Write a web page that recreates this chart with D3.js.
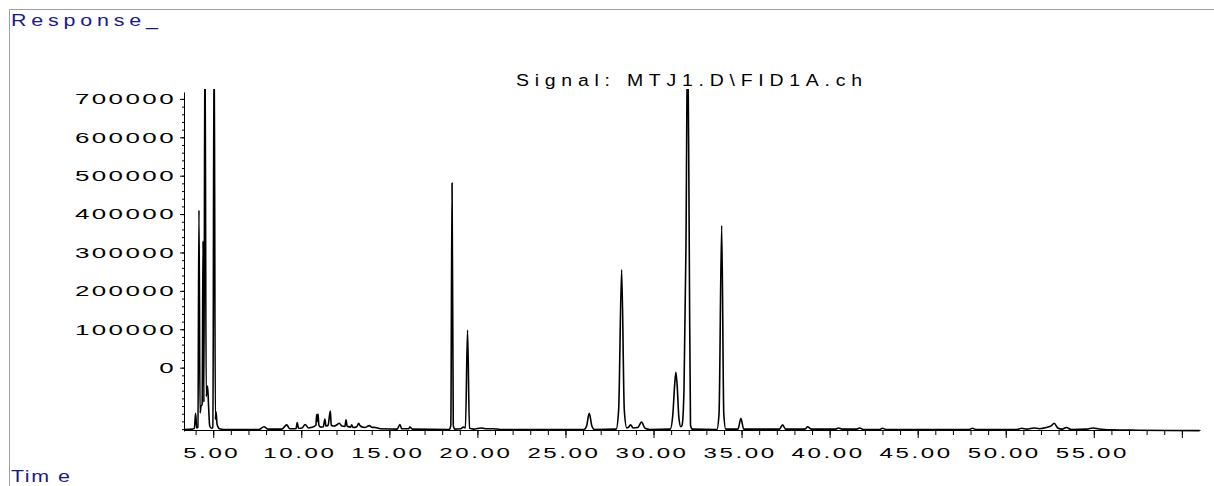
<!DOCTYPE html>
<html><head><meta charset="utf-8">
<script src="https://cdn.jsdelivr.net/npm/d3@7"></script>
<style>html,body{margin:0;padding:0;background:#fff;overflow:hidden}</style>
</head><body><svg id="c" width="1214" height="486"></svg>
<script>
const chartTitle = "Signal: MTJ1.D\\FID1A.ch";
const yAxisTitle = "Response_";
const xAxisTitle = "Tim e";
const yTickLabels = [0, 100000, 200000, 300000, 400000, 500000, 600000, 700000];
const xTickLabels = [5, 10, 15, 20, 25, 30, 35, 40, 45, 50, 55];
// trace vertices: retention time (min) and response
const traceTime = [3.34,3.80,3.93,4.00,4.06,4.13,4.19,4.25,4.31,4.37,4.42,4.47,4.53,4.60,4.68,4.74,4.80,4.90,4.98,5.05,5.12,5.16,5.22,5.35,5.60,
 7.60,7.88,8.10,8.90,9.17,9.35,9.70,9.77,9.84,10.05,10.22,10.40,10.55,10.83,10.87,10.91,10.95,11.00,11.10,11.25,11.34,11.40,11.52,11.65,11.70,11.85,
 12.05,12.16,12.30,12.48,12.54,12.60,12.80,12.86,12.95,13.15,13.26,13.35,13.60,13.86,14.00,14.20,14.50,15.45,15.60,15.70,16.10,16.17,16.30,
 18.40,18.49,18.56,18.63,18.72,19.05,19.20,19.32,19.44,19.55,19.80,20.20,20.45,20.90,21.30,
 26.05,26.20,26.35,26.50,26.65,27.88,28.02,28.19,28.34,28.48,28.56,28.70,28.84,29.10,29.32,29.52,29.80,
 30.95,31.10,31.20,31.27,31.34,31.44,31.55,31.62,31.73,31.84,31.94,32.03,32.10,32.20,
 33.60,33.72,33.87,33.99,34.10,34.80,34.96,35.12,37.15,37.33,37.50,38.60,38.75,38.95,40.35,40.50,40.70,41.55,41.70,41.90,
 42.85,43.00,43.20,47.95,48.10,48.30,50.60,50.90,51.20,51.60,51.90,52.30,52.60,52.75,52.95,53.20,53.45,53.70,54.60,54.96,55.30,56.00,57.50,61.00];
const traceResponse = [-161000,-160000,-158000,-119000,-157000,-155000,410000,-118000,-100000,-96000,330000,-90000,900000,-75000,-48000,-105000,-152000,-158000,-156000,900000,-135000,-115000,-148000,-159000,-161000,
 -161000,-154000,-160000,-160000,-149000,-159000,-159000,-143000,-158000,-157000,-148000,-157000,-156000,-150000,-122000,-140000,-121000,-150000,-155000,-154000,-134000,-152000,-150000,-113000,-150000,-152000,
 -148000,-145000,-152000,-153000,-136000,-152000,-155000,-149000,-156000,-154000,-145000,-152000,-156000,-151000,-155000,-156000,-159000,-160000,-148000,-159000,-159000,-155000,-160000,
 -161000,-150000,481000,-150000,-160000,-159000,-155000,-157000,98000,-158000,-160000,-157000,-159000,-159000,-161000,
 -161000,-152000,-119000,-152000,-161000,-160000,-110000,255000,-110000,-157000,-156000,-149000,-157000,-156000,-142000,-158000,-161000,
 -160000,-120000,-45000,-12000,-45000,-130000,-154000,-150000,-60000,306000,900000,306000,-150000,-160000,
 -161000,-120000,370000,-120000,-160000,-160000,-132000,-160000,-160000,-149000,-160000,-160000,-154000,-160000,-160000,-157000,-160000,-160000,-157000,-161000,
 -161000,-158000,-161000,-161000,-158000,-161000,-161000,-158000,-160000,-157000,-159000,-156000,-151000,-145000,-157000,-160000,-156000,-161000,-160000,-157000,-160000,-162000,-163000,-164000];

const FONT = "'Liberation Sans', Arial, sans-serif";
const svg = d3.select("#c");

// frame
svg.append("line").attr("x1",9.5).attr("x2",1214).attr("y1",9.5).attr("y2",9.5).attr("stroke","#a0a0a0").attr("stroke-width",1);
svg.append("line").attr("x1",9.5).attr("x2",9.5).attr("y1",9.5).attr("y2",486).attr("stroke","#a0a0a0").attr("stroke-width",1);

const x = d3.scaleLinear().domain([3.34, 61.03]).range([184, 1200]);
const y = d3.scaleLinear().domain([-165000, 718000]).range([431, 92]);

// trace
svg.append("clipPath").attr("id","clip").append("rect").attr("x",184).attr("y",89).attr("width",1030).attr("height",360);
const pts = traceTime.map((t,i)=>[t, traceResponse[i]]);
svg.append("path").datum(pts)
  .attr("clip-path","url(#clip)")
  .attr("fill","none").attr("stroke","#000").attr("stroke-width",1.6).attr("stroke-linejoin","round")
  .attr("d", d3.line().x(d=>x(d[0])).y(d=>y(d[1])).curve(d3.curveMonotoneX));

// y axis
const yMinor = d3.range(-160000, 700001, 20000);
svg.append("g").attr("transform","translate(184,0)")
  .call(d3.axisLeft(y).tickValues(yMinor).tickSize(2).tickSizeOuter(0).tickFormat(""));
const gY = svg.append("g").attr("transform","translate(184,0)")
  .call(d3.axisLeft(y).tickValues(yTickLabels).tickSize(4).tickSizeOuter(0).tickFormat(d3.format("d")));
gY.select(".domain").remove();
const syY = 1.73;
gY.selectAll(".tick text")
  .attr("font-family", FONT).attr("font-size", 15).attr("fill","#000")
  .style("letter-spacing","1.4px")
  .attr("transform", `scale(${syY},1)`).attr("x", -8/syY);

// x axis
const xMinor = d3.range(4, 61, 1);
svg.append("g").attr("transform","translate(0,430)")
  .call(d3.axisBottom(x).tickValues(xMinor).tickSize(5).tickSizeOuter(0).tickFormat(""));
const gX = svg.append("g").attr("transform","translate(0,430)")
  .call(d3.axisBottom(x).tickValues(xTickLabels.concat([60])).tickSize(8).tickSizeOuter(0)
    .tickFormat(d => xTickLabels.includes(d) ? d3.format(".2f")(d) : ""));
gX.select(".domain").remove();
const sxX = 1.72;
gX.selectAll(".tick text")
  .attr("font-family", FONT).attr("font-size", 14).attr("fill","#000")
  .style("letter-spacing","1.5px")
  .attr("transform", `scale(${sxX},1)`).attr("x", -2/sxX).attr("y", 28).attr("dy", 0);

// titles
const sT = 1.18;
svg.append("text").attr("transform",`scale(${sT},1)`)
  .attr("x", 516/sT).attr("y", 86).attr("font-family", FONT).attr("font-size", 16.5).attr("fill","#000")
  .attr("textLength", 346/sT).attr("lengthAdjust","spacing").text(chartTitle);
const sR = 1.3;
svg.append("text").attr("transform",`scale(${sR},1)`)
  .attr("x", 11/sR).attr("y", 26.5).attr("font-family", FONT).attr("font-size", 16.5).attr("fill","#1a1a8c")
  .attr("textLength", 147/sR).attr("lengthAdjust","spacing").text(yAxisTitle);
svg.append("text").attr("transform",`scale(${sR},1)`)
  .attr("x", 11/sR).attr("y", 482).attr("font-family", FONT).attr("font-size", 16.5).attr("fill","#1a1a8c")
  .attr("textLength", 59/sR).attr("lengthAdjust","spacing").text(xAxisTitle);
</script></body></html>
